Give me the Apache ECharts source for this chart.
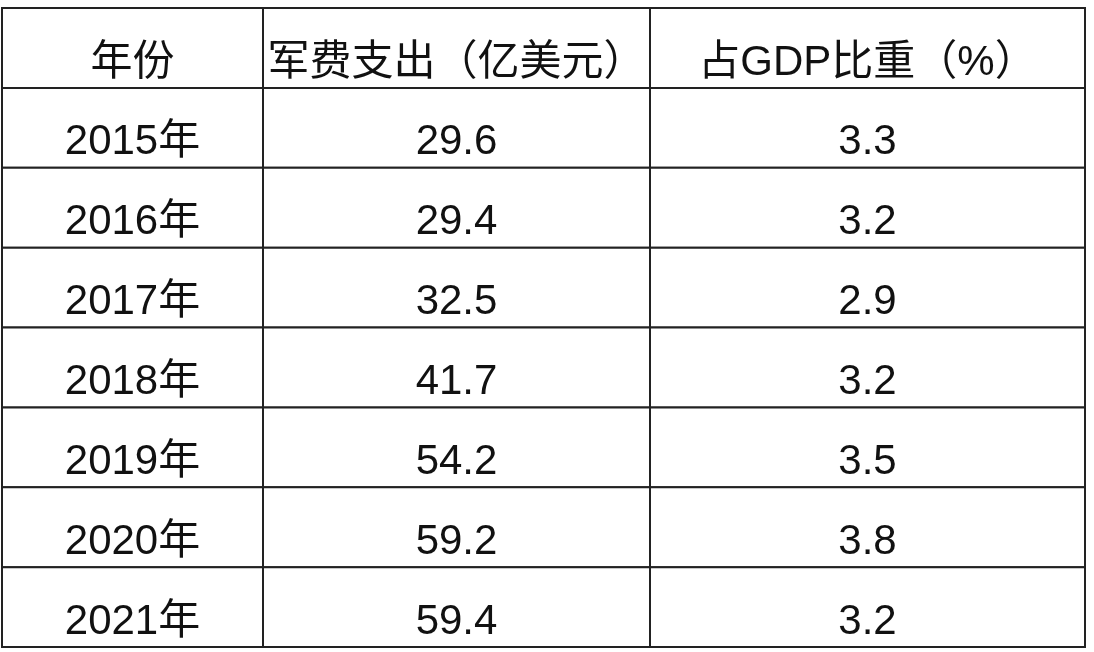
<!DOCTYPE html>
<html>
<head>
  <meta charset="utf-8">
  <title>军费支出表</title>
  <script src="https://cdn.jsdelivr.net/npm/echarts@6.0.0/dist/echarts.min.js"></script>
  <style>
    html, body { margin: 0; padding: 0; background: #fff; }
    #main { width: 1094px; height: 652px; }
  </style>
</head>
<body>
  <div id="main"></div>
  <script>
    // 表头与数据
    const headers = ['年份', '军费支出（亿美元）', '占GDP比重（%）'];
    const years = ['2015年', '2016年', '2017年', '2018年', '2019年', '2020年', '2021年'];
    const spending = [29.6, 29.4, 32.5, 41.7, 54.2, 59.2, 59.4];
    const gdpShare = [3.3, 3.2, 2.9, 3.2, 3.5, 3.8, 3.2];
    // 列边界（横轴单位）
    const colEdges = [0, 261, 648, 1083];

    const rows = [headers].concat(years.map((y, i) => [y, spending[i].toFixed(1), gdpShare[i].toFixed(1)]));
    const cells = [];
    rows.forEach((r, ri) => r.forEach((t, ci) => cells.push([ci, ri, t])));

    const chart = echarts.init(document.getElementById('main'));
    chart.setOption({
      backgroundColor: '#fff',
      animation: false,
      grid: { left: 2, right: 9, top: 8, bottom: 5 },
      xAxis: { type: 'value', min: 0, max: 1083, show: false },
      yAxis: { type: 'value', min: 0, max: rows.length, inverse: true, show: false },
      series: [{
        type: 'custom',
        data: cells,
        renderItem: function (params, api) {
          const ci = api.value(0), ri = api.value(1);
          const p0 = api.coord([colEdges[ci], ri]);
          const p1 = api.coord([colEdges[ci + 1], ri + 1]);
          return {
            type: 'group',
            children: [{
              type: 'rect',
              shape: { x: p0[0], y: p0[1], width: p1[0] - p0[0], height: p1[1] - p0[1] },
              style: { fill: '#fff', stroke: '#222', lineWidth: 2 }
            }, {
              type: 'text',
              style: {
                x: (p0[0] + p1[0]) / 2,
                y: (p0[1] + p1[1]) / 2 + 15,
                text: rows[ri][ci],
                fill: '#111',
                font: '42px "Liberation Sans", "Noto Sans CJK SC", sans-serif',
                align: 'center',
                verticalAlign: 'middle'
              }
            }]
          };
        }
      }]
    });
  </script>
</body>
</html>
